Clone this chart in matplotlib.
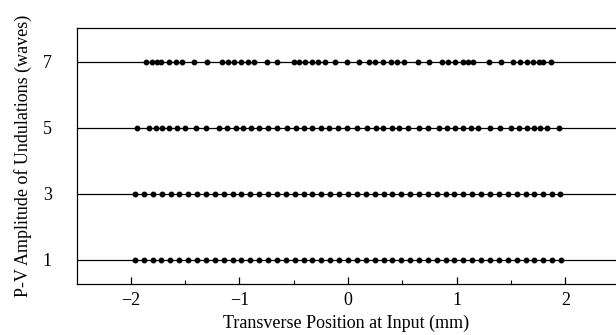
import matplotlib
matplotlib.use('Agg')
import matplotlib.pyplot as plt
from matplotlib.ticker import MultipleLocator

# P-V amplitude levels (waves)
levels = [1, 3, 5, 7]

# sample positions (mm), one list per level
x_1 = [-1.961, -1.879, -1.797, -1.716, -1.634, -1.552, -1.471, -1.389, -1.307, -1.226,
       -1.144, -1.062, -0.980, -0.899, -0.817, -0.735, -0.654, -0.572, -0.490, -0.409,
       -0.327, -0.245, -0.163, -0.082, 0.000, 0.082, 0.163, 0.245, 0.327, 0.409,
       0.490, 0.572, 0.654, 0.735, 0.817, 0.899, 0.980, 1.062, 1.144, 1.226,
       1.307, 1.389, 1.471, 1.552, 1.634, 1.716, 1.797, 1.879, 1.961]

x_3 = [-1.955, -1.872, -1.792, -1.712, -1.632, -1.550, -1.470, -1.388, -1.306, -1.225,
       -1.143, -1.062, -0.980, -0.899, -0.817, -0.735, -0.654, -0.572, -0.490, -0.409,
       -0.327, -0.245, -0.163, -0.082, 0.000, 0.082, 0.163, 0.245, 0.327, 0.409,
       0.490, 0.572, 0.654, 0.735, 0.817, 0.899, 0.980, 1.062, 1.144, 1.226,
       1.307, 1.389, 1.471, 1.552, 1.634, 1.716, 1.797, 1.879, 1.955]

x_5 = [-1.944, -1.831, -1.766, -1.708, -1.644, -1.576, -1.500, -1.401, -1.306, -1.187,
       -1.110, -1.033, -0.963, -0.892, -0.819, -0.733, -0.650, -0.564, -0.481, -0.402,
       -0.328, -0.251, -0.172, -0.095, -0.012, 0.086, 0.178, 0.255, 0.325, 0.402,
       0.472, 0.549, 0.653, 0.739, 0.837, 0.914, 0.984, 1.061, 1.129, 1.199,
       1.306, 1.398, 1.500, 1.573, 1.650, 1.714, 1.766, 1.828, 1.944]

x_7 = [-1.858, -1.800, -1.760, -1.720, -1.647, -1.585, -1.524, -1.414, -1.300, -1.156,
       -1.107, -1.046, -0.984, -0.923, -0.862, -0.748, -0.650, -0.497, -0.448, -0.396,
       -0.328, -0.273, -0.212, -0.120, -0.012, 0.104, 0.193, 0.248, 0.319, 0.393,
       0.448, 0.515, 0.647, 0.745, 0.862, 0.923, 0.984, 1.055, 1.107, 1.153,
       1.300, 1.408, 1.521, 1.582, 1.644, 1.705, 1.757, 1.797, 1.865]

positions = [x_1, x_3, x_5, x_7]

plt.rcParams['font.family'] = ['Liberation Serif', 'DejaVu Serif']
plt.rcParams['font.size'] = 13

fig = plt.figure(figsize=(6.16, 3.35), dpi=100)
ax = fig.add_axes([77 / 616, 1 - 284 / 335, 539 / 616, 256 / 335])

for lev, xs in zip(levels, positions):
    ax.axhline(lev, color='black', linewidth=0.9, zorder=1)
    ax.plot(xs, [lev] * len(xs), 'o', color='black', markersize=3.2, zorder=2)

ax.set_xlim(-2.493, 2.466)
ax.set_ylim(0.27, 8.03)
ax.set_xticks([-2, -1, 0, 1, 2])
ax.xaxis.set_minor_locator(MultipleLocator(0.5))
ax.set_yticks(levels)
ax.tick_params(axis='x', which='major', direction='in', length=5, width=0.9, pad=6, top=False)
ax.tick_params(axis='x', which='minor', direction='in', length=3, width=0.8, top=False)
ax.tick_params(axis='y', which='both', length=0, pad=18)
ax.spines['right'].set_visible(False)
for s in ['left', 'top', 'bottom']:
    ax.spines[s].set_linewidth(0.9)

ax.set_xlabel('Transverse Position at Input (mm)', labelpad=4)
ax.set_ylabel('P-V Amplitude of Undulations (waves)', labelpad=8)

fig.savefig('out.png', dpi=100)
